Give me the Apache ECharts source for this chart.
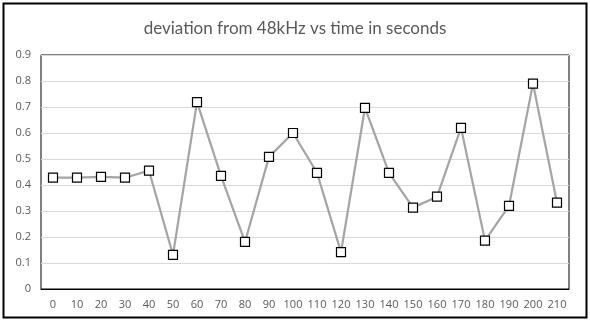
<!DOCTYPE html>
<html><head><meta charset="utf-8">
<script src="https://cdn.jsdelivr.net/npm/echarts@6/dist/echarts.min.js"></script>
<style>html,body{margin:0;padding:0;background:#fff}#c{width:590px;height:327px}</style>
</head><body><div id="c"></div>
<script>
const titleText = 'deviation from 48kHz vs time in seconds';
const categories = ['0','10','20','30','40','50','60','70','80','90','100','110','120','130','140','150','160','170','180','190','200','210'];
const values = [0.428,0.428,0.431,0.428,0.455,0.131,0.719,0.435,0.181,0.508,0.600,0.447,0.142,0.697,0.447,0.313,0.355,0.620,0.186,0.320,0.790,0.332];
const yTicks = {min:0, max:0.9, interval:0.1};

const chart = echarts.init(document.getElementById('c'), null, {renderer:'canvas'});
chart.setOption({
  animation:false,
  backgroundColor:'#fff',
  title:{text:titleText, left:'center', top:15,
    textStyle:{fontFamily:'Lato, "Open Sans", sans-serif', fontWeight:'normal', fontSize:17, color:'#595959'}},
  graphic:[{type:'rect', shape:{x:3.5,y:3.5,width:583,height:314}, style:{fill:'none', stroke:'#000', lineWidth:2}, silent:true}],
  grid:{left:41, right:21, top:55, bottom:38, show:true, borderColor:'#000', borderWidth:1, backgroundColor:'transparent'},
  xAxis:{type:'category', data:categories, boundaryGap:true,
    axisLine:{lineStyle:{color:'#000'}}, axisTick:{show:false},
    axisLabel:{color:'#595959', fontSize:11, fontFamily:'"Open Sans", Lato, sans-serif', margin:10, interval:0}},
  yAxis:{type:'value', min:yTicks.min, max:yTicks.max, interval:yTicks.interval,
    axisLine:{show:false}, axisTick:{show:false},
    splitLine:{lineStyle:{color:'#d9d9d9'}},
    axisLabel:{color:'#595959', fontSize:11, fontFamily:'"Open Sans", Lato, sans-serif', margin:10,
      formatter:v=>String(Math.round(v*10)/10)}},
  series:[{type:'line', data:values, symbol:'rect', symbolSize:9,
    lineStyle:{color:'#a5a5a5', width:2.25},
    itemStyle:{color:'#fff', borderColor:'#000', borderWidth:1.2}}]
});
</script></body></html>
